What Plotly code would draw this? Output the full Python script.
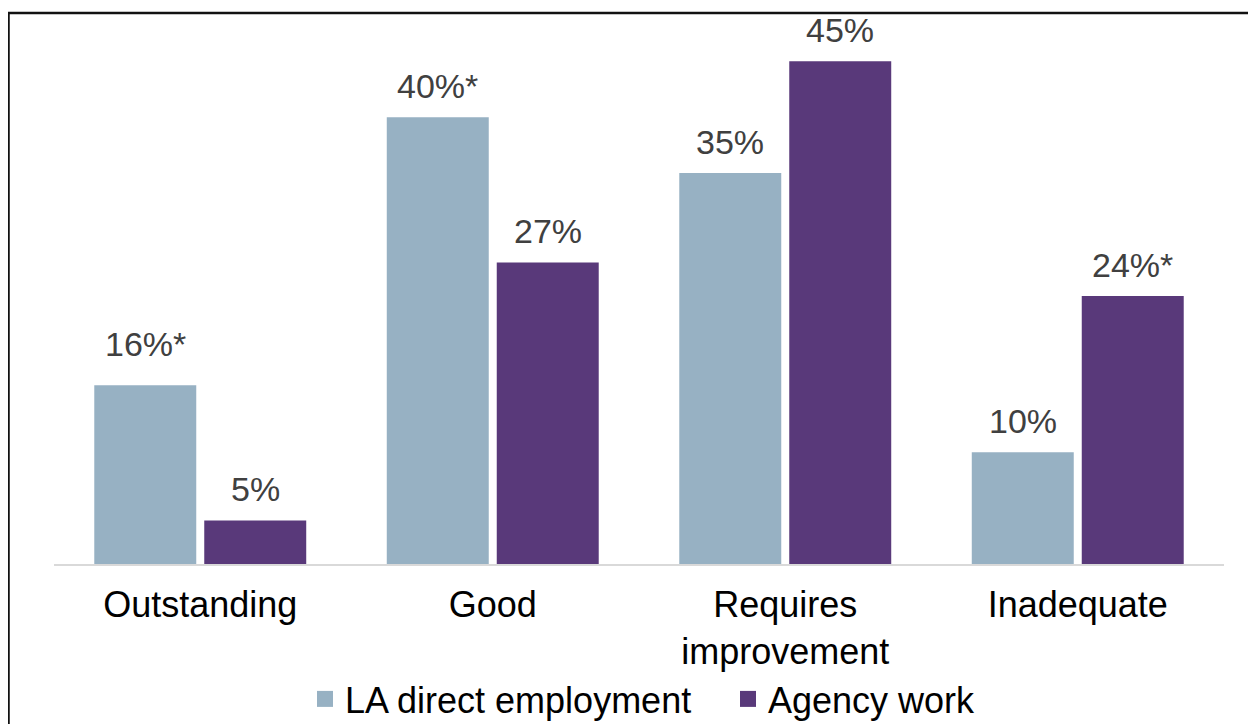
import plotly.graph_objects as go

categories = ["Outstanding", "Good", "Requires<br>improvement", "Inadequate"]
series_names = ["LA direct employment", "Agency work"]
la_values = [16, 40, 35, 10]
agency_values = [3.9, 27, 45, 24]
la_labels = ["16%*", "40%*", "35%", "10%"]
agency_labels = ["5%", "27%", "45%", "24%*"]

colors = ["#97B1C3", "#59397A"]

# page has an 8px body margin; figure coordinates account for it
W, H = 1248, 716
ML, MR, MT, MB = 46, 32, 4, 160
PW, PH = W - ML - MR, H - MT - MB
FONT = "Liberation Sans, Arial, sans-serif"

fig = go.Figure()
fig.add_trace(go.Bar(x=categories, y=la_values, name=series_names[0], showlegend=False,
                     marker=dict(color=colors[0], line=dict(width=0))))
fig.add_trace(go.Bar(x=categories, y=agency_values, name=series_names[1], showlegend=False,
                     marker=dict(color=colors[1], line=dict(width=0))))
# legend entries with larger square swatches
for name, col in zip(series_names, colors):
    fig.add_trace(go.Scatter(x=[None], y=[None], mode="markers", name=name,
                             marker=dict(symbol="square", size=18, color=col, line=dict(width=0))))

annotations = []
for vals, labs, shift in [(la_values, la_labels, -55), (agency_values, agency_labels, 55)]:
    for c, v, t in zip(categories, vals, labs):
        ys = 10
        if t == "16%*":
            ys = 20
        annotations.append(dict(x=c, y=v, text=t, xref="x", yref="y", showarrow=False,
                                xanchor="center", yanchor="bottom", xshift=shift, yshift=ys,
                                font=dict(family=FONT, size=34, color="#404040")))

fig.update_layout(
    width=W, height=H,
    margin=dict(l=ML, r=MR, t=MT, b=MB),
    paper_bgcolor="white", plot_bgcolor="white",
    barmode="group", bargap=0.248, bargroupgap=0.0727,
    font=dict(family=FONT, color="#000000"),
    showlegend=True,
    legend=dict(orientation="h", xref="paper", x=(297 - ML) / PW, xanchor="left",
                yref="container", y=(H - 691) / H, yanchor="middle",
                bgcolor="rgba(0,0,0,0)",
                font=dict(family=FONT, size=36, color="#000000"),
                itemwidth=30, itemsizing="trace", traceorder="normal",
                entrywidth=378, entrywidthmode="pixels"),
    annotations=annotations,
    shapes=[dict(type="rect", xref="paper", yref="paper",
                 x0=(0.5 - ML) / PW, x1=1.2, y0=-0.6, y1=1 + (MT - 5) / PH,
                 line=dict(color="#111111", width=2.5), fillcolor="rgba(0,0,0,0)", layer="above")],
)
fig.update_xaxes(showline=True, linecolor="#D9D9D9", linewidth=2, ticks="",
                 tickfont=dict(size=36, color="#000000"), ticklabelstandoff=8,
                 automargin=False, showgrid=False, zeroline=False)
fig.update_yaxes(range=[0, 49.42], visible=False, showgrid=False, zeroline=False,
                 automargin=False)

fig.write_html("out.html")
